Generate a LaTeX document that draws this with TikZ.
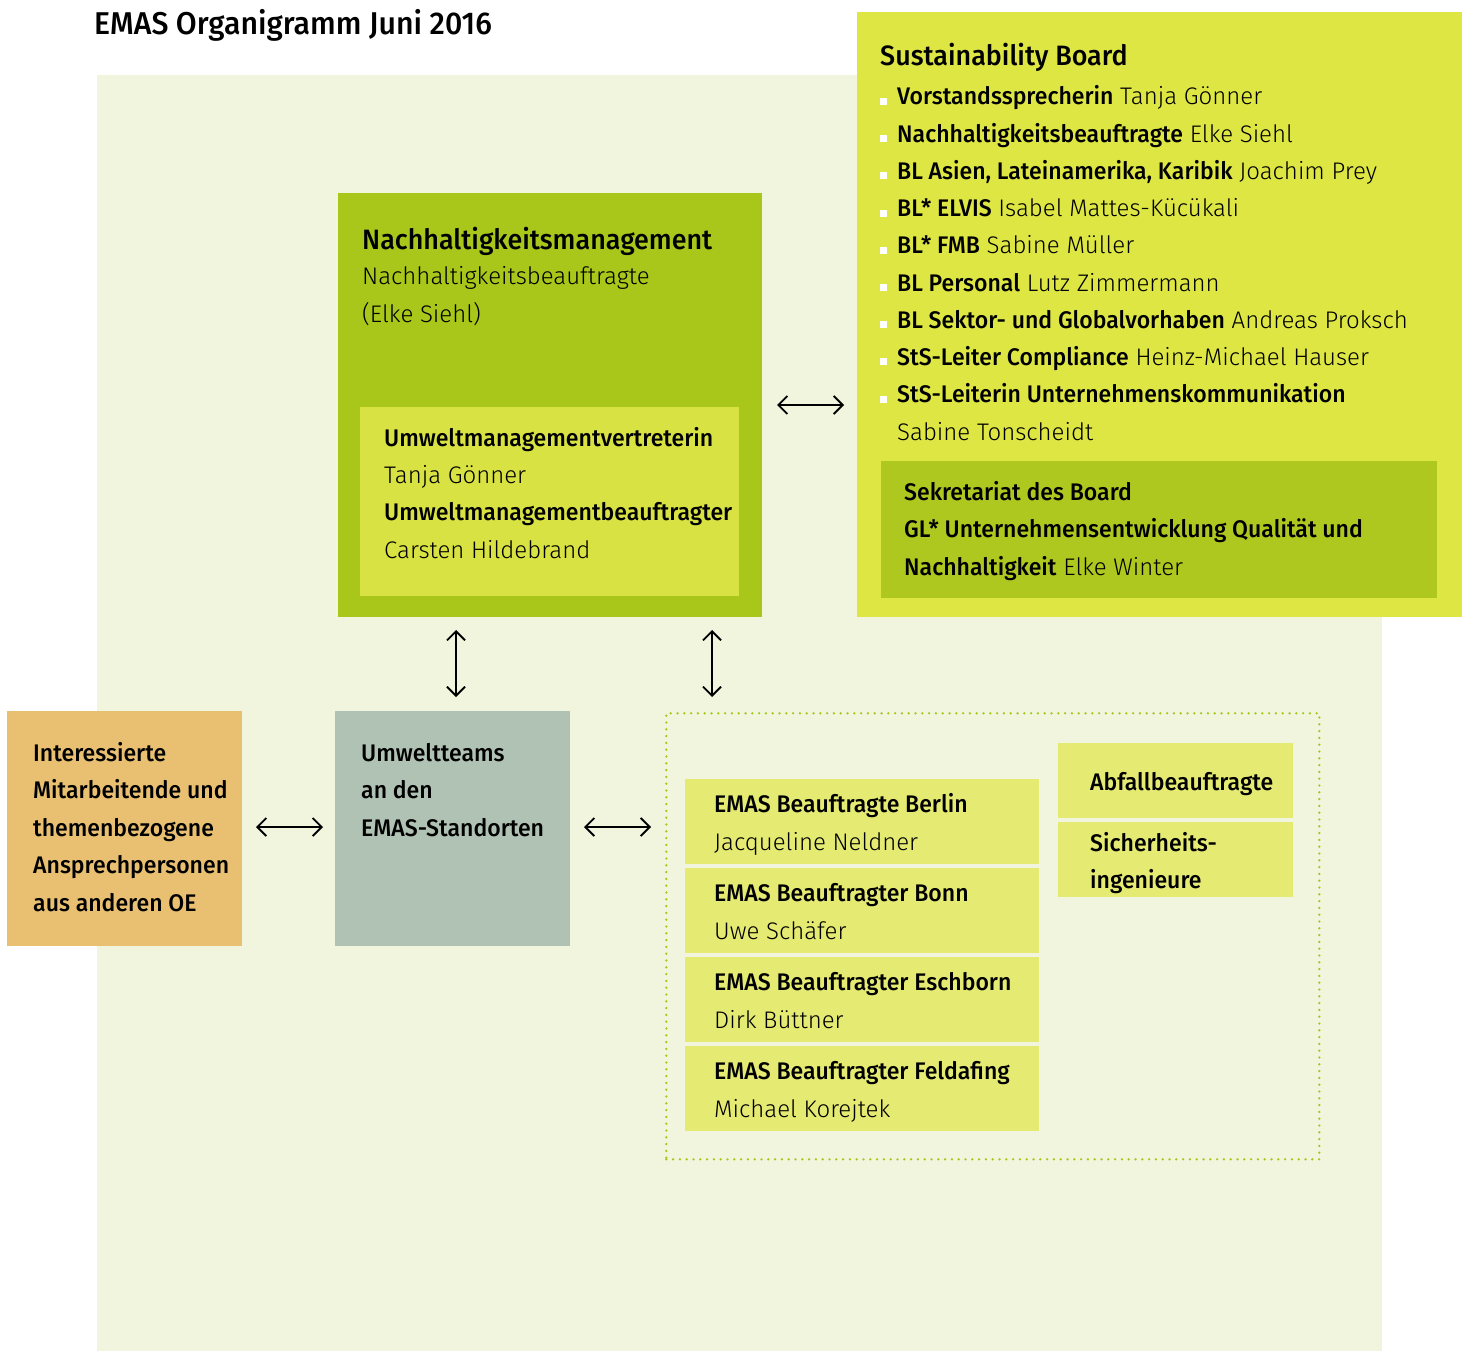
\documentclass[tikz,border=0pt]{standalone}
\usepackage{fontspec}
\setmainfont{Fira Sans Light}[BoldFont={Fira Sans Medium}, BoldFeatures={FakeStretch=0.96}]
\usetikzlibrary{arrows.meta}

\definecolor{palebg}{HTML}{F1F5DE}
\definecolor{boardlime}{HTML}{DEE644}
\definecolor{nmgreen}{HTML}{A9C71A}
\definecolor{secgreen}{HTML}{AEC81F}
\definecolor{innerlime}{HTML}{D9E243}
\definecolor{oeorange}{HTML}{E9C072}
\definecolor{teamgrey}{HTML}{AFC2B3}
\definecolor{emasyellow}{HTML}{E5EA72}
\definecolor{dotgreen}{HTML}{A6C81E}

\begin{document}
\begin{tikzpicture}[x=1pt, y=-1pt,
    block/.style={anchor=north west, inner sep=0pt, outer sep=0pt, fill=#1},
    txt/.style={anchor=base west, inner sep=0pt, align=left, font=\fontsize{24}{37.2}\selectfont},
    head/.style={anchor=base west, inner sep=0pt, font=\fontsize{28}{37}\selectfont\bfseries},
    biarrow/.style={{Straight Barb[length=9pt,width=18pt]}-{Straight Barb[length=9pt,width=18pt]}, line width=1.8pt}]

    \useasboundingbox (0,0) rectangle (1469,1351);

    % Title
    \node[anchor=base west, inner sep=0pt, font=\fontsize{31.5}{37}\selectfont\bfseries] (title) at (94,35) {EMAS Organigramm Juni 2016};

    % Pale background panel
    \fill[palebg] (97,75) rectangle (1382,1351);

    % Sustainability Board with its members
    \node[block=boardlime, minimum width=605pt, minimum height=605pt] (board) at (857,12) {};
    \node[head] (boardtitle) at (880,66) {Sustainability Board};
    \foreach \lab/\nam [count=\i] in {Vorstandssprecherin/Tanja Gönner,
        Nachhaltigkeitsbeauftragte/Elke Siehl,
        {BL Asien, Lateinamerika, Karibik}/Joachim Prey,
        BL* ELVIS/Isabel Mattes-Kücükali,
        BL* FMB/Sabine Müller,
        BL Personal/Lutz Zimmermann,
        BL Sektor- und Globalvorhaben/Andreas Proksch,
        StS-Leiter Compliance/Heinz-Michael Hauser,
        StS-Leiterin Unternehmenskommunikation/} {
        \fill[white] (880,{98+37.2*(\i-1)}) rectangle (887,{105+37.2*(\i-1)});
        \node[txt] (member\i) at (897,{105+37.2*(\i-1)}) {\textbf{\lab} \nam};
    }
    \node[txt] (tonscheidt) at (897,440) {Sabine Tonscheidt};

    % Secretariat inside the board (multi-line texts sit on their last line)
    \node[block=secgreen, minimum width=556pt, minimum height=137pt] (secretariat) at (881,461) {};
    \node[txt] (sectext) at (904,575) {\textbf{Sekretariat des Board}\\
        \textbf{GL* Unternehmensentwicklung Qualität und}\\
        \textbf{Nachhaltigkeit} Elke Winter};

    % Nachhaltigkeitsmanagement
    \node[block=nmgreen, minimum width=424pt, minimum height=424pt] (nm) at (338,193) {};
    \node[head] (nmtitle) at (362,249) {Nachhaltigkeitsmanagement};
    \node[txt] (nmtext) at (362,322) {Nachhaltigkeitsbeauftragte\\(Elke Siehl)};
    \node[block=innerlime, minimum width=379pt, minimum height=189pt] (umwelt) at (360,407) {};
    \node[txt] (umwelttext) at (384,558) {\textbf{Umweltmanagementvertreterin}\\
        Tanja Gönner\\
        \textbf{Umweltmanagementbeauftragter}\\
        Carsten Hildebrand};

    % Interested staff and environment teams
    \node[block=oeorange, minimum width=235pt, minimum height=235pt] (staff) at (7,711) {};
    \node[txt, font=\fontsize{24}{37.5}\selectfont\bfseries] (stafftext) at (33,911) {Interessierte\\
        Mitarbeitende und\\themenbezogene\\Ansprechpersonen\\aus anderen OE};
    \node[block=teamgrey, minimum width=235pt, minimum height=235pt] (teams) at (335,711) {};
    \node[txt, font=\fontsize{24}{37.5}\selectfont\bfseries] (teamstext) at (361,836) {Umweltteams\\an den\\EMAS-Standorten};

    % EMAS officers at the sites (dotted frame)
    \node[anchor=north west, inner sep=0pt, draw=dotgreen, line width=2.6pt, line cap=round,
        dash pattern=on 0pt off 6.8pt, minimum width=653pt, minimum height=446pt] (frame) at (665,712) {};
    \foreach \ort/\nam [count=\i] in {Beauftragte Berlin/Jacqueline Neldner,
        Beauftragter Bonn/Uwe Schäfer,
        Beauftragter Eschborn/Dirk Büttner,
        Beauftragter Feldafing/Michael Korejtek} {
        \node[block=emasyellow, minimum width=354pt, minimum height=85pt] (site\i) at (685,{779+89*(\i-1)}) {};
        \node[txt] (sitetext\i) at (714,{850+89*(\i-1)}) {\textbf{EMAS \ort}\\\nam};
    }
    \node[block=emasyellow, minimum width=235pt, minimum height=75pt] (waste) at (1058,743) {};
    \node[txt, font=\fontsize{24}{37}\selectfont\bfseries] (wastetext) at (1090,790) {Abfallbeauftragte};
    \node[block=emasyellow, minimum width=235pt, minimum height=75pt] (safety) at (1058,822) {};
    \node[txt, font=\fontsize{24}{37}\selectfont\bfseries] (safetytext) at (1090,888) {Sicherheits-\\ingenieure};

    % Connectors
    \draw[biarrow, shorten <=15pt, shorten >=13pt] (nm.east |- 0,405) -- (board.west |- 0,405);
    \draw[biarrow, shorten <=13pt, shorten >=14pt] (nm.south -| 456,0) -- (teams.north -| 456,0);
    \draw[biarrow, shorten <=13pt, shorten >=15pt] (nm.south -| 712,0) -- (frame.north -| 712,0);
    \draw[biarrow, shorten <=14pt, shorten >=12pt] (staff.east |- 0,827) -- (teams.west |- 0,827);
    \draw[biarrow, shorten <=14pt, shorten >=14pt] (teams.east |- 0,827) -- (frame.west |- 0,827);

\end{tikzpicture}
\end{document}
